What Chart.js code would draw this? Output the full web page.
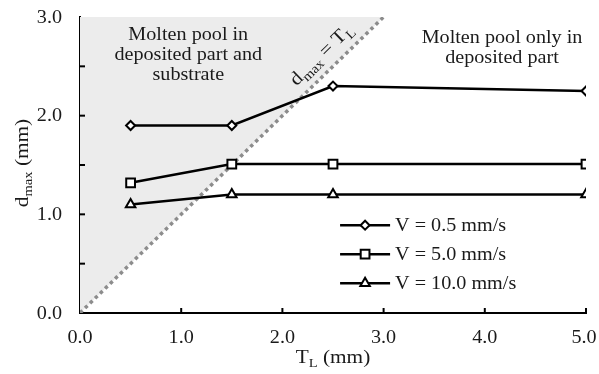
<!DOCTYPE html>
<html>
<head>
<meta charset="utf-8">
<script src="https://cdn.jsdelivr.net/npm/chart.js@4.4.1/dist/chart.umd.min.js"></script>
<style>
  html, body { margin: 0; padding: 0; background: #fff; }
  #wrap { width: 599px; height: 374px; position: relative; }
</style>
</head>
<body>
<div id="wrap"><canvas id="c" width="599" height="374"></canvas></div>
<script>
// ---- data ----
const xTL = [0.5, 1.5, 2.5, 5.0];
const dV05 = [1.9, 1.9, 2.3, 2.25];
const dV50 = [1.32, 1.51, 1.51, 1.51];
const dV100 = [1.1, 1.2, 1.2, 1.2];
const seriesNames = ['V = 0.5 mm/s', 'V = 5.0 mm/s', 'V = 10.0 mm/s'];
const boundaryX = [0, 3];       // d_max = T_L line
const xTicks = [0, 1, 2, 3, 4, 5];
const yTicks = [0, 1, 2, 3];
const regionLeft = ['Molten pool in', 'deposited part and', 'substrate'];
const regionRight = ['Molten pool only in', 'deposited part'];

const FONT = '"Liberation Serif", "Times New Roman", serif';
const STRETCH = 1.12;
const pts = (ys) => xTL.map((x, i) => ({ x: x, y: ys[i] }));

const markerStyles = ['rectRot', 'rect', 'triangle'];
const markerRadius = [4.5, 6.2, 5.5];

const seriesDs = [dV05, dV50, dV100].map((ys, i) => ({
  label: seriesNames[i],
  data: pts(ys),
  borderColor: '#000',
  borderWidth: 2.5,
  pointStyle: markerStyles[i],
  pointRadius: markerRadius[i],
  pointBorderWidth: 2,
  pointBackgroundColor: '#fff',
  pointBorderColor: '#000',
  fill: false,
  tension: 0,
  order: 0
}));

const regionDs = {
  label: 'boundary',
  data: boundaryX.map(v => ({ x: v, y: v })),
  borderColor: '#8c8c8c',
  borderWidth: 3.5,
  borderDash: [3.5, 3.5],
  backgroundColor: '#ececec',
  fill: 'end',
  pointRadius: 0,
  order: 5
};

// stretched text helpers (text stays real canvas text)
function textW(ctx, s) { return ctx.measureText(s).width * STRETCH; }
function sText(ctx, s, x, y, align) {
  const w = textW(ctx, s);
  let x0 = x;
  if (align === 'center') x0 = x - w / 2;
  else if (align === 'right') x0 = x - w;
  ctx.save();
  ctx.translate(x0, y);
  ctx.scale(STRETCH, 1);
  ctx.textAlign = 'left';
  ctx.fillText(s, 0, 0);
  ctx.restore();
}

function drawRich(ctx, parts, x, y, size) {
  let w = 0;
  const subSize = Math.round(size * 0.68);
  parts.forEach(p => {
    ctx.font = (p[1] ? subSize : size) + 'px ' + FONT;
    w += textW(ctx, p[0]);
  });
  let cx = x - w / 2;
  ctx.textBaseline = 'alphabetic';
  parts.forEach(p => {
    ctx.font = (p[1] ? subSize : size) + 'px ' + FONT;
    sText(ctx, p[0], cx, y + (p[1] ? size * 0.22 : 0), 'left');
    cx += textW(ctx, p[0]);
  });
}

function drawMarker(ctx, style, r, x, y) {
  ctx.beginPath();
  if (style === 'rectRot') {
    ctx.moveTo(x, y - r); ctx.lineTo(x + r, y); ctx.lineTo(x, y + r); ctx.lineTo(x - r, y); ctx.closePath();
  } else if (style === 'rect') {
    const s = Math.SQRT1_2 * r;
    ctx.rect(x - s, y - s, 2 * s, 2 * s);
  } else {
    ctx.moveTo(x, y - r); ctx.lineTo(x + r * 0.866, y + r * 0.5); ctx.lineTo(x - r * 0.866, y + r * 0.5); ctx.closePath();
  }
  ctx.fillStyle = '#fff'; ctx.fill();
  ctx.lineWidth = 2; ctx.strokeStyle = '#000'; ctx.stroke();
}

const decor = {
  id: 'decor',
  afterDatasetsDraw(chart) {
    const ctx = chart.ctx;
    const xs = chart.scales.x, ys = chart.scales.y;
    const area = chart.chartArea;
    ctx.save();
    // inside ticks
    ctx.strokeStyle = '#000'; ctx.lineWidth = 2;
    ys.ticks.forEach(t => {
      const py = ys.getPixelForValue(t.value);
      if (t.value <= 0 || t.value >= 3) return;
      ctx.beginPath(); ctx.moveTo(area.left, py); ctx.lineTo(area.left + 5, py); ctx.stroke();
    });
    xs.ticks.forEach(t => {
      const px = xs.getPixelForValue(t.value);
      if (t.value <= 0) return;
      ctx.beginPath(); ctx.moveTo(px, area.bottom); ctx.lineTo(px, area.bottom - 5); ctx.stroke();
    });
    // tick labels
    ctx.fillStyle = '#1a1a1a';
    ctx.font = '18px ' + FONT;
    ctx.textBaseline = 'middle';
    yTicks.forEach(v => sText(ctx, v.toFixed(1), area.left - 18, ys.getPixelForValue(v) + 1, 'right'));
    xTicks.forEach(v => sText(ctx, v.toFixed(1), Math.min(xs.getPixelForValue(v), 584), area.bottom + 25, 'center'));
    // region labels
    ctx.fillStyle = '#1a1a1a';
    ctx.font = '18px ' + FONT;
    ctx.textBaseline = 'middle';
    const lx = xs.getPixelForValue(1.07);
    regionLeft.forEach((s, i) => sText(ctx, s, lx, ys.getPixelForValue(2.81) + i * 20, 'center'));
    const rx = xs.getPixelForValue(4.17);
    regionRight.forEach((s, i) => sText(ctx, s, rx, ys.getPixelForValue(2.78) + i * 20, 'center'));
    // rotated boundary label
    const ang = Math.atan2(ys.getPixelForValue(3) - ys.getPixelForValue(0), xs.getPixelForValue(3) - xs.getPixelForValue(0));
    const bx = xs.getPixelForValue(2.5), by = ys.getPixelForValue(2.5);
    ctx.save();
    ctx.translate(bx + Math.sin(ang) * 11, by - Math.cos(ang) * 11);
    ctx.rotate(ang);
    drawRich(ctx, [['d', false], ['max', true], [' = T', false], ['L', true]], 0, 0, 19);
    ctx.restore();
    // legend
    const legX = xs.getPixelForValue(2.57), legW = 50;
    const legY0 = ys.getPixelForValue(0.89);
    chart.data.datasets.forEach((ds, i) => {
      if (i === 0) return;
      const k = i - 1;
      const yy = legY0 + k * 29;
      ctx.strokeStyle = '#000'; ctx.lineWidth = 2.5;
      ctx.beginPath(); ctx.moveTo(legX, yy); ctx.lineTo(legX + legW, yy); ctx.stroke();
      drawMarker(ctx, markerStyles[k], markerRadius[k], legX + legW / 2, yy);
      ctx.fillStyle = '#1a1a1a';
      ctx.font = '18px ' + FONT;
      ctx.textBaseline = 'middle';
      sText(ctx, ds.label, legX + legW + 5, yy + 1, 'left');
    });
    // axis titles
    ctx.fillStyle = '#1a1a1a';
    drawRich(ctx, [['T', false], ['L', true], [' (mm)', false]], (area.left + area.right) / 2, 363, 19);
    ctx.save();
    ctx.translate(28, (area.top + area.bottom) / 2 - 2);
    ctx.rotate(-Math.PI / 2);
    drawRich(ctx, [['d', false], ['max', true], [' (mm)', false]], 0, 0, 19);
    ctx.restore();
    ctx.restore();
  }
};

new Chart(document.getElementById('c'), {
  type: 'line',
  data: { datasets: [regionDs, ...seriesDs] },
  options: {
    responsive: false,
    animation: false,
    devicePixelRatio: 1,
    layout: { padding: { top: 17, right: 13, left: 0, bottom: 0 } },
    plugins: { legend: { display: false }, tooltip: { enabled: false } },
    scales: {
      x: {
        type: 'linear', min: 0, max: 5,
        afterBuildTicks: (s) => { s.ticks = xTicks.map(v => ({ value: v })); },
        grid: { display: true, drawOnChartArea: false, drawTicks: false },
        border: { display: true, color: '#000', width: 2 },
        ticks: { display: false },
        afterFit: (s) => { s.height = 61; }
      },
      y: {
        type: 'linear', min: 0, max: 3,
        afterBuildTicks: (s) => { s.ticks = [0, 0.5, 1, 1.5, 2, 2.5, 3].map(v => ({ value: v })); },
        grid: { display: true, drawOnChartArea: false, drawTicks: false },
        border: { display: true, color: '#000', width: 2 },
        ticks: { display: false },
        afterFit: (s) => { s.width = 80; }
      }
    }
  },
  plugins: [decor]
});
</script>
</body>
</html>
